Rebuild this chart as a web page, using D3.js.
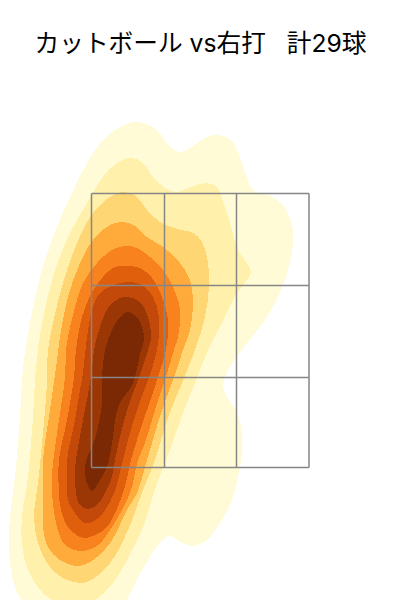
<!DOCTYPE html>
<html><head><meta charset="utf-8">
<script src="https://cdn.jsdelivr.net/npm/d3@7/dist/d3.min.js"></script>
<style>html,body{margin:0;padding:0;background:#fff}svg{display:block}</style>
</head><body><div id="chart"></div>
<script>
const titleText = "カットボール vs右打   計29球";
const level1 = [[138,478],[157,470],[168,455],[180,448],[193,454],[207,463],[218,465],[230,461],[238,448],[245,428],[253,410],[270,404],[283,395],[292,375],[293,357],[288,330],[278,303],[263,277],[247,257],[230,233],[223,215],[227,203],[237,188],[242,167],[242,147],[238,123],[232,100],[220,77],[207,60],[193,54],[182,57],[170,64],[160,57],[148,40],[137,20],[127,0],[118,-20],[70,-40],[22,0],[13,20],[9,50],[10,83],[15,123],[20,183],[23,233],[30,277],[40,323],[53,363],[70,403],[87,437],[103,460],[120,473]];
const level2 = [[132,442],[143,437],[153,423],[165,412],[177,408],[193,414],[207,417],[217,413],[223,398],[230,377],[238,350],[251,328],[245,318],[233,300],[222,277],[208,250],[195,217],[183,187],[170,150],[157,117],[143,73],[127,40],[113,17],[95,0],[70,-6],[45,5],[28,30],[22,57],[22,83],[28,123],[33,183],[36,233],[42,277],[53,323],[68,363],[87,397],[103,423],[117,437]];
const level3 = [[125,408],[137,403],[147,390],[160,378],[177,371],[193,367],[202,358],[208,337],[209,313],[205,283],[195,250],[182,217],[168,183],[155,140],[143,110],[128,70],[110,37],[87,18],[67,20],[50,33],[38,57],[34,83],[38,117],[43,167],[47,217],[48,250],[53,277],[63,317],[77,357],[93,387],[110,403]];
const level4 = [[123,378],[135,374],[147,363],[163,353],[180,337],[190,320],[193,297],[190,270],[183,250],[173,220],[163,193],[152,157],[147,140],[137,107],[127,90],[110,57],[93,40],[78,34],[60,40],[48,53],[43,73],[43,100],[43,140],[50,190],[57,240],[60,263],[68,303],[80,337],[93,360],[110,375]];
const level5 = [[125,354],[137,352],[150,343],[163,330],[173,313],[180,290],[178,263],[174,250],[165,220],[155,190],[145,157],[138,140],[130,107],[112,73],[98,55],[82,49],[65,55],[57,73],[52,107],[52,127],[58,173],[65,223],[66,250],[68,263],[75,293],[83,317],[97,337],[112,350]];
const level6 = [[127,334],[140,332],[152,322],[162,303],[168,280],[166,250],[157,220],[147,190],[137,160],[131,140],[123,107],[107,73],[95,65],[83,62],[68,73],[61,90],[59,107],[59,140],[67,180],[74,223],[76,250],[82,283],[92,308],[103,323],[115,333]];
const level7 = [[130,318],[142,315],[153,303],[159,283],[157,250],[148,220],[138,193],[128,160],[123,140],[114,107],[103,87],[94,79],[85,77],[75,87],[68,100],[67,117],[67,140],[75,180],[80,210],[83,227],[86,255],[92,290],[100,307],[113,315]];
const level8 = [[128,303],[140,298],[148,283],[151,263],[148,250],[138,220],[128,193],[120,163],[115,140],[112,123],[105,107],[97,95],[88,91],[80,95],[76,107],[75,125],[76,140],[83,180],[91,223],[94,250],[100,273],[108,292],[118,301]];
const level9 = [[128,288],[137,283],[142,273],[144,260],[141,250],[135,223],[131,213],[120,197],[115,180],[113,163],[107,133],[100,120],[92,109],[86,120],[85,133],[88,145],[93,155],[98,173],[102,197],[102,223],[105,250],[113,272],[122,285]];
const levels = [level1,level2,level3,level4,level5,level6,level7,level8,level9];
const levelColors = ["#fffbd6","#fff1ac","#fed673","#ffab3c","#f8821e","#e05f0c","#c2490a","#9b3704","#7a2904"];
const zoneX = [91.5,164.5,236.5,309];
const zoneY = [406.5,314.5,222.5,132.5];

const x = d3.scaleLinear().domain([0,400]).range([0,400]);
const y = d3.scaleLinear().domain([0,600]).range([600,0]);
const svg = d3.select("#chart").append("svg").attr("width",400).attr("height",600);
const line = d3.line().x(d=>x(d[0])).y(d=>y(d[1])).curve(d3.curveCatmullRomClosed.alpha(0.5));
svg.append("g").selectAll("path").data(levels).join("path")
  .attr("d",line).attr("fill",(d,i)=>levelColors[i]).attr("shape-rendering","crispEdges");
const grid = svg.append("g").attr("stroke","#868686").attr("stroke-width",1.5).attr("fill","none");
grid.selectAll(".v").data(zoneX).join("line").attr("class","v")
  .attr("x1",d=>x(d)).attr("x2",d=>x(d)).attr("y1",y(zoneY[0])).attr("y2",y(zoneY[3]));
grid.selectAll(".h").data(zoneY).join("line").attr("class","h")
  .attr("y1",d=>y(d)).attr("y2",d=>y(d)).attr("x1",x(zoneX[0])).attr("x2",x(zoneX[3]));
svg.append("text").attr("x",200.5).attr("y",52).attr("text-anchor","middle").style("white-space","pre")
  .attr("font-family","Inter,'Noto Sans CJK JP',sans-serif").attr("font-size",24.7).attr("fill","#000").text(titleText);
</script></body></html>
